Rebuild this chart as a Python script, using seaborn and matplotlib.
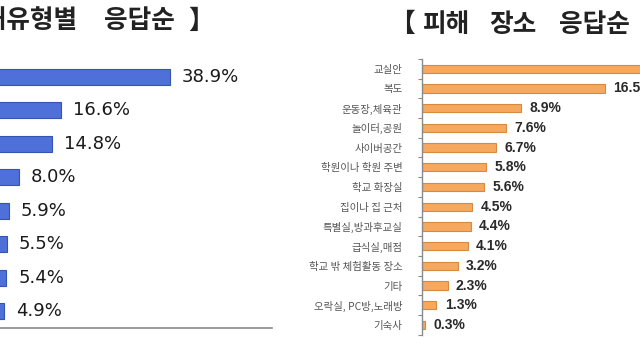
import matplotlib
matplotlib.use("Agg")
import matplotlib.pyplot as plt
import seaborn as sns
import pandas as pd
import numpy as np

sns.set_theme(style="white")
plt.rcParams['font.family'] = ['Noto Sans CJK KR', 'DejaVu Sans']

# Left chart: 피해유형별 응답순 (category labels are cropped off in the reference)
type_categories = ["언어폭력", "집단따돌림", "사이버 괴롭힘", "스토킹", "신체폭행", "금품갈취", "강제심부름", "성추행·성폭행"]
type_values = [38.9, 16.6, 14.8, 8.0, 5.9, 5.5, 5.4, 4.9]
type_labels = ["38.9%", "16.6%", "14.8%", "8.0%", "5.9%", "5.5%", "5.4%", "4.9%"]

# Right chart: 피해 장소 응답순
place_categories = ["교실안", "복도", "운동장,체육관", "놀이터,공원", "사이버공간", "학원이나 학원 주변",
                    "학교 화장실", "집이나 집 근처", "특별실,방과후교실", "급식실,매점",
                    "학교 밖 체험활동 장소", "기타", "오락실, PC방,노래방", "기숙사"]
place_values = [30.6, 16.5, 8.9, 7.6, 6.7, 5.8, 5.6, 4.5, 4.4, 4.1, 3.2, 2.3, 1.3, 0.3]
place_labels = ["30.6%", "16.5%", "8.9%", "7.6%", "6.7%", "5.8%", "5.6%", "4.5%", "4.4%", "4.1%",
                "3.2%", "2.3%", "1.3%", "0.3%"]

W, H = 640, 360
fig = plt.figure(figsize=(6.4, 3.6), dpi=100)
fig.patch.set_facecolor("white")

def px(x0, y0, x1, y1):
    return [x0 / W, 1 - y1 / H, (x1 - x0) / W, (y1 - y0) / H]

# ---------- left chart ----------
axL = fig.add_axes(px(-20, 60.25, 272, 327.75))
dfL = pd.DataFrame({"cat": type_categories, "val": type_values})
sns.barplot(data=dfL, x="val", y="cat", ax=axL, color="#4f70d9", width=0.48,
            edgecolor="#3553b0", linewidth=0.8, saturation=1)
axL.set_xlim(0, 59.7)
axL.set_ylim(len(type_categories) - 0.5, -0.5)
for sp in ["top", "right", "left"]:
    axL.spines[sp].set_visible(False)
axL.spines["bottom"].set_color("#8a8a8a")
axL.spines["bottom"].set_linewidth(1.2)
axL.set_xticks([])
axL.set_yticks([])
axL.set_xlabel("")
axL.set_ylabel("")
for i, (v, lab) in enumerate(zip(type_values, type_labels)):
    axL.annotate(lab, xy=(v, i), xytext=(8.5, 0), textcoords="offset points",
                 va="center", ha="left", fontsize=13, color="#1a1a1a",
                 family=["DejaVu Sans"])

# ---------- right chart ----------
axR = fig.add_axes(px(422, 58.8, 640, 334.8))
dfR = pd.DataFrame({"cat": place_categories, "val": place_values})
sns.barplot(data=dfR, x="val", y="cat", ax=axR, color="#f5a85e", width=0.42,
            edgecolor="#d68a40", linewidth=0.8, saturation=1)
axR.set_xlim(0, 19.64)
axR.set_ylim(len(place_categories) - 0.5, -0.5)
for sp in ["top", "right", "bottom"]:
    axR.spines[sp].set_visible(False)
axR.spines["left"].set_color("#8a8a8a")
axR.spines["left"].set_linewidth(1.0)
axR.set_xticks([])
axR.set_yticks(range(len(place_categories)))
axR.set_yticklabels(place_categories, fontsize=7.5, color="#555555")
axR.tick_params(axis="y", which="major", length=0, pad=14)
axR.set_yticks(np.arange(-0.5, len(place_categories), 1.0), minor=True)
axR.tick_params(axis="y", which="minor", length=3, width=0.8, color="#8a8a8a", left=True)
axR.set_xlabel("")
axR.set_ylabel("")
for i, (v, lab) in enumerate(zip(place_values, place_labels)):
    axR.annotate(lab, xy=(v, i), xytext=(6, 0), textcoords="offset points",
                 va="center", ha="left", fontsize=10, color="#2a2a2a", fontweight="bold",
                 family=["Liberation Sans", "DejaVu Sans"], annotation_clip=False)

# ---------- titles (word by word to mimic the wide letter spacing) ----------
tkw = dict(va="center", fontsize=18.5, fontweight="bold", color="#222222")
yl = 1 - 21 / H
fig.text(19 / W, yl, "피해유형별", ha="center", **tkw)
fig.text(139 / W, yl, "응답순", ha="center", **tkw)
fig.text(188 / W, yl, "】", ha="left", **tkw)
yr = 1 - 25 / H
fig.text(389 / W, yr, "【", ha="left", **tkw)
fig.text(447 / W, yr, "피해", ha="center", **tkw)
fig.text(513 / W, yr, "장소", ha="center", **tkw)
fig.text(594 / W, yr, "응답순", ha="center", **tkw)

fig.savefig("out.png", dpi=100, facecolor="white")
